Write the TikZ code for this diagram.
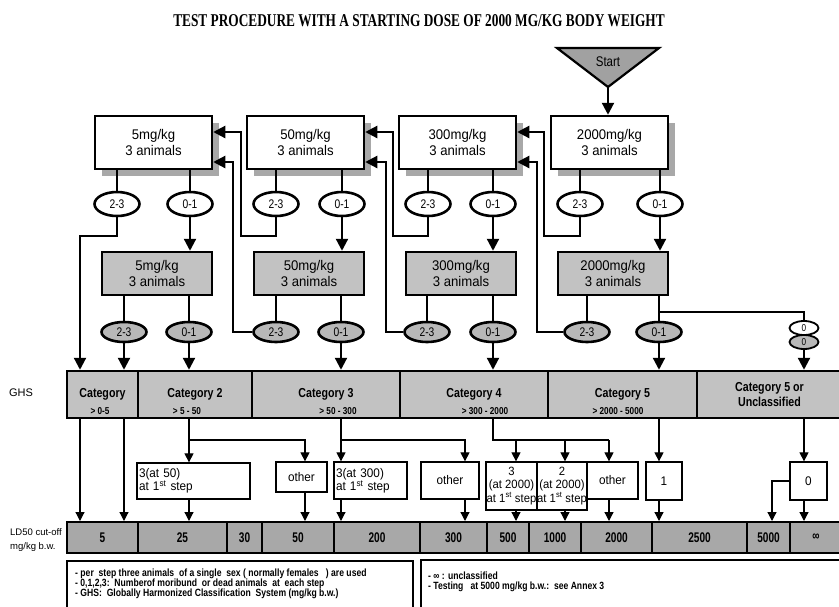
\documentclass[tikz,border=0pt]{standalone}
\usepackage{fontspec}
\setmainfont{Liberation Sans}
\newfontfamily\titlefont{Liberation Serif}[FakeStretch=0.74]
\newfontfamily\dosefont{Liberation Sans}[FakeStretch=0.94]
\newfontfamily\narrowfont{Liberation Sans}[FakeStretch=0.82]
\newfontfamily\slimfont{Liberation Sans}[FakeStretch=0.72]
\usetikzlibrary{arrows.meta,shapes.geometric,shadows}

\definecolor{boxgrey}{gray}{0.76}
\definecolor{ellgrey}{gray}{0.72}
\definecolor{ldgrey}{gray}{0.66}
\definecolor{shadowgrey}{gray}{0.66}
\definecolor{startgrey}{gray}{0.63}

\begin{document}
\begin{tikzpicture}[x=1pt,y=-1pt]
        \useasboundingbox (0,0) rectangle (839,606);
        \tikzstyle{dose} = [rectangle,draw,line width=2.5pt,fill=white,inner sep=0pt,
          minimum width=117pt,minimum height=53pt,align=center,font=\fontsize{14}{15.5}\dosefont,
          drop shadow={shadow xshift=7pt,shadow yshift=-7pt,fill=shadowgrey,opacity=1}]
        \tikzstyle{redose} = [rectangle,draw,line width=2.5pt,fill=boxgrey,inner sep=0pt,
          minimum width=110pt,minimum height=43pt,align=center,font=\fontsize{14}{15.5}\dosefont]
        \tikzstyle{dead} = [ellipse,draw,line width=2.6pt,fill=white,inner sep=0pt,
          minimum width=45pt,minimum height=24pt,font=\fontsize{12.5}{13}\narrowfont]
        \tikzstyle{redead} = [dead,fill=ellgrey,minimum height=20pt]
        \tikzstyle{none} = [dead,line width=1.8pt,minimum width=29pt,minimum height=14pt,font=\fontsize{10}{11}\narrowfont]
        \tikzstyle{cat} = [rectangle,draw,line width=2.5pt,fill=boxgrey,inner sep=0pt,
          minimum height=47pt,align=center,font=\fontsize{13}{15}\narrowfont\bfseries]
        \tikzstyle{rangelbl} = [inner sep=0pt,font=\fontsize{10}{11}\narrowfont\bfseries]
        \tikzstyle{cutoff} = [rectangle,draw,line width=2pt,fill=ldgrey,inner sep=0pt,
          minimum height=31pt,font=\fontsize{14}{15}\slimfont\bfseries]
        \tikzstyle{result} = [rectangle,draw,line width=1.3pt,fill=white,inner sep=2pt,
          align=center,font=\fontsize{12.5}{13.3}\dosefont]
        \tikzstyle{link} = [line width=2.2pt]
        \tikzstyle{flow} = [link,-{Triangle[length=12pt,width=12pt]}]
        \tikzstyle{lowlink} = [line width=1.2pt]
        \tikzstyle{lowgo} = [lowlink,-{Triangle[length=9pt,width=9pt]}]
        \tikzstyle{notes} = [inner sep=0pt,anchor=north west,align=left,font=\fontsize{10.5}{10}\narrowfont\bfseries]

        \node[font=\titlefont\bfseries\fontsize{18}{20}\selectfont] (title) at (419,21)
          {TEST PROCEDURE WITH A STARTING DOSE OF 2000 MG/KG BODY WEIGHT};

        % start marker
        \draw[link,fill=startgrey] (557,48) -- (659,48) -- (608,87) -- cycle;
        \coordinate (tip) at (608,87);
        \node[font=\fontsize{14}{15}\narrowfont] (start) at (608,62) {Start};

        % first group of three animals
        \node[dose] (w5) at (153.5,142.5) {5mg/kg\\3 animals};
        \node[dose] (w50) at (305.5,142.5) {50mg/kg\\3 animals};
        \node[dose] (w300) at (457.5,142.5) {300mg/kg\\3 animals};
        \node[dose] (w2000) at (609.5,142.5) {2000mg/kg\\3 animals};
        \node[dead] (a23) at (117,204) {2-3};
        \node[dead] (a01) at (190,204) {0-1};
        \node[dead] (b23) at (276,204) {2-3};
        \node[dead] (b01) at (342,204) {0-1};
        \node[dead] (c23) at (428,204) {2-3};
        \node[dead] (c01) at (493,204) {0-1};
        \node[dead] (d23) at (580,204) {2-3};
        \node[dead] (d01) at (660,204) {0-1};

        % second group at the same dose
        \node[redose] (g5) at (157,273.5) {5mg/kg\\3 animals};
        \node[redose] (g50) at (309,273.5) {50mg/kg\\3 animals};
        \node[redose] (g300) at (461,273.5) {300mg/kg\\3 animals};
        \node[redose] (g2000) at (613,273.5) {2000mg/kg\\3 animals};
        \node[redead] (ga23) at (124,332) {2-3};
        \node[redead] (ga01) at (189,332) {0-1};
        \node[redead] (gb23) at (276,332) {2-3};
        \node[redead] (gb01) at (341,332) {0-1};
        \node[redead] (gc23) at (427,332) {2-3};
        \node[redead] (gc01) at (493,332) {0-1};
        \node[redead] (gd23) at (587,332) {2-3};
        \node[redead] (gd01) at (659,332) {0-1};
        \node[none] (zw) at (804,328) {0};
        \node[none,fill=ellgrey] (zg) at (804,342) {0};

        % GHS categories
        \node[font=\fontsize{11}{13}\selectfont] (ghs) at (21,393) {GHS};
        \node[cat,minimum width=71pt] (cat1) at (102.5,394.5) {Category};
        \node[cat,minimum width=114pt] (cat2) at (195,394.5) {Category 2};
        \node[cat,minimum width=148pt] (cat3) at (326,394.5) {Category 3};
        \node[cat,minimum width=148pt] (cat4) at (474,394.5) {Category 4};
        \node[cat,minimum width=149pt] (cat5) at (622.5,394.5) {Category 5};
        \node[cat,minimum width=145pt] (cat6) at (769.5,394.5) {Category 5 or\\Unclassified};
        \node[rangelbl] (r1) at (100,411) {> 0-5};
        \node[rangelbl] (r2) at (187,411) {> 5 - 50};
        \node[rangelbl] (r3) at (338,411) {> 50 - 300};
        \node[rangelbl] (r4) at (485,411) {> 300 - 2000};
        \node[rangelbl] (r5) at (618,411) {> 2000 - 5000};

        % outcomes at the first step
        \node[result,text width=109pt,align=left,minimum height=36pt] (b50) at (193.5,481)
          {3(at 50)\\at 1\textsuperscript{st} step};
        \node[result,minimum width=51pt,minimum height=30pt] (o2) at (301.5,477) {other};
        \node[result,text width=69pt,align=left,minimum height=37pt] (b300) at (370.5,480.5)
          {3(at 300)\\ at 1\textsuperscript{st} step};
        \node[result,minimum width=58pt,minimum height=37pt] (o3) at (450,480.5) {other};
        \node[result,inner sep=0pt,minimum width=51pt,minimum height=48pt,
          font=\fontsize{12}{13.3}\dosefont] (b3k) at (511.5,486)
          {3\\(at 2000)\\at 1\textsuperscript{st} step};
        \node[result,inner sep=0pt,minimum width=50pt,minimum height=48pt,
          font=\fontsize{12}{13.3}\dosefont] (b2k) at (562,486)
          {2\\(at 2000)\\at 1\textsuperscript{st} step};
        \node[result,minimum width=51pt,minimum height=37pt] (o4) at (612.5,480.5) {other};
        \node[result,minimum width=36pt,minimum height=38pt] (b1) at (664,481) {1};
        \node[result,minimum width=37pt,minimum height=38pt] (b0) at (808.5,481) {0};

        % LD50 cut-off values
        \node[align=left,inner sep=0pt,font=\fontsize{9.5}{14}\selectfont,anchor=west] (ldtxt) at (10,540)
          {LD50 cut-off\\mg/kg b.w.};
        \node[cutoff,minimum width=71pt] (ld5) at (102.5,537.5) {5};
        \node[cutoff,minimum width=89pt] (ld25) at (182.5,537.5) {25};
        \node[cutoff,minimum width=35pt] (ld30) at (244.5,537.5) {30};
        \node[cutoff,minimum width=72pt] (ld50) at (298,537.5) {50};
        \node[cutoff,minimum width=86pt] (ld200) at (377,537.5) {200};
        \node[cutoff,minimum width=67pt] (ld300) at (453.5,537.5) {300};
        \node[cutoff,minimum width=42pt] (ld500) at (508,537.5) {500};
        \node[cutoff,minimum width=52pt] (ld1000) at (555,537.5) {1000};
        \node[cutoff,minimum width=71pt] (ld2000) at (616.5,537.5) {2000};
        \node[cutoff,minimum width=95pt] (ld2500) at (699.5,537.5) {2500};
        \node[cutoff,minimum width=43pt] (ld5000) at (768.5,537.5) {5000};
        \node[cutoff,minimum width=52pt] (ldinf) at (816,537.5) {∞};

        % notes
        \draw[line width=1.5pt] (67,561) rectangle (413,620);
        \draw[line width=1.8pt] (421,560) rectangle (850,620);
        \node[notes] (notel) at (75,569)
          {- per\ \ step three animals\ \ of a single\ \ sex ( normally females\ \ \ ) are used\\
           - 0,1,2,3:\ \ Numberof moribund\ \ or dead animals\ \ at\ \ each step\\
           - GHS:\ \ Globally Harmonized Classification\ \ System (mg/kg b.w.)};
        \node[notes] (noter) at (428,572)
          {- ∞ : unclassified\\
           - Testing\ \ \ at 5000 mg/kg b.w.:\ \ see Annex 3};

        % stepping through the doses
        \draw[flow] (tip) -- (tip |- w2000.north);
        \draw[link] (a23 |- w5.south) -- (a23);
        \draw[link] (a01 |- w5.south) -- (a01);
        \draw[link] (b23 |- w50.south) -- (b23);
        \draw[link] (b01 |- w50.south) -- (b01);
        \draw[link] (c23 |- w300.south) -- (c23);
        \draw[link] (c01 |- w300.south) -- (c01);
        \draw[link] (d23 |- w2000.south) -- (d23);
        \draw[link] (d01 |- w2000.south) -- (d01);
        \draw[flow] (a01) -- (a01 |- g5.north);
        \draw[flow] (b01) -- (b01 |- g50.north);
        \draw[flow] (c01) -- (c01 |- g300.north);
        \draw[flow] (d01) -- (d01 |- g2000.north);
        \draw[link] (ga23 |- g5.south) -- (ga23);
        \draw[link] (ga01 |- g5.south) -- (ga01);
        \draw[link] (gb23 |- g50.south) -- (gb23);
        \draw[link] (gb01 |- g50.south) -- (gb01);
        \draw[link] (gc23 |- g300.south) -- (gc23);
        \draw[link] (gc01 |- g300.south) -- (gc01);
        \draw[link] (gd23 |- g2000.south) -- (gd23);
        \draw[link] (gd01 |- g2000.south) -- (gd01);
        \draw[flow] (b23) |- (241,236) |- (w5.east |- 0,132);
        \draw[flow] (gb23) -| (233,162) -- (w5.east |- 0,162);
        \draw[flow] (c23) |- (393,236) |- (w50.east |- 0,132);
        \draw[flow] (gc23) -| (386,162) -- (w50.east |- 0,162);
        \draw[flow] (d23) |- (544,236) |- (w300.east |- 0,132);
        \draw[flow] (gd23) -| (537,162) -- (w300.east |- 0,162);
        \draw[link] (659,312) -| (zw.north);

        % into the categories
        \draw[flow] (a23) |- (80,236) -- (80,0 |- cat1.north);
        \draw[flow] (ga23) -- (ga23 |- cat1.north);
        \draw[flow] (ga01) -- (ga01 |- cat2.north);
        \draw[flow] (gb01) -- (gb01 |- cat3.north);
        \draw[flow] (gc01) -- (gc01 |- cat4.north);
        \draw[flow] (gd01) -- (gd01 |- cat5.north);
        \draw[flow] (zg) -- (zg |- cat6.north);

        % from the categories to the cut-off values
        \draw[lowgo] (80,0 |- cat1.south) -- (80,0 |- ld5.north);
        \draw[lowgo] (124,0 |- cat1.south) -- (124,0 |- ld5.north);
        \draw[lowgo] (189,0 |- cat2.south) -- (189,0 |- b50.north);
        \draw[lowgo] (189,440) -| (305,0 |- o2.north);
        \draw[lowgo] (189,0 |- b50.south) -- (189,0 |- ld25.north);
        \draw[lowgo] (305,0 |- o2.south) -- (305,0 |- ld50.north);
        \draw[lowgo] (341,0 |- cat3.south) -- (341,0 |- b300.north);
        \draw[lowgo] (341,440) -| (465,0 |- o3.north);
        \draw[lowgo] (341,0 |- b300.south) -- (341,0 |- ld200.north);
        \draw[lowgo] (465,0 |- o3.south) -- (465,0 |- ld300.north);
        \draw[lowlink] (493,0 |- cat4.south) |- (609,440);
        \draw[lowgo] (516,440) -- (516,0 |- b3k.north);
        \draw[lowgo] (565,440) -- (565,0 |- b2k.north);
        \draw[lowgo] (609,440) -- (609,0 |- o4.north);
        \draw[lowgo] (516,0 |- b3k.south) -- (516,0 |- ld500.north);
        \draw[lowgo] (565,0 |- b2k.south) -- (565,0 |- ld1000.north);
        \draw[lowgo] (609,0 |- o4.south) -- (609,0 |- ld2000.north);
        \draw[lowgo] (659,0 |- cat5.south) -- (659,0 |- b1.north);
        \draw[lowgo] (659,0 |- b1.south) -- (659,0 |- ld2500.north);
        \draw[lowgo] (804,0 |- cat6.south) -- (804,0 |- b0.north);
        \draw[lowgo] (804,0 |- b0.south) -- (804,0 |- ldinf.north);
        \draw[lowgo] (b0.west) -| (772,0 |- ld5000.north);
      \end{tikzpicture}
\end{document}
